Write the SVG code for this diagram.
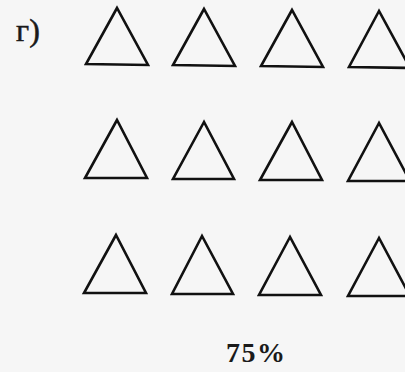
<svg xmlns="http://www.w3.org/2000/svg" width="405" height="372" viewBox="0 0 405 372">
<style>
.tri{fill:none;stroke:#111;stroke-width:2.6;stroke-linejoin:miter}
.lbl{font-family:"Liberation Serif","DejaVu Serif",serif;fill:#1a1a1a}
</style>
<rect width="405" height="372" fill="#f6f6f6"/>
<g id="label-g"><text class="lbl" x="16" y="41" font-size="32" stroke="#1a1a1a" stroke-width="0.5">г)</text></g>
<g id="row1">
<polygon id="t11" class="tri" points="117,8 86,64 148,65"/>
<polygon id="t12" class="tri" points="204,9 173,65 235,66"/>
<polygon id="t13" class="tri" points="292,10 261,66 323,67"/>
<polygon id="t14" class="tri" points="379,11 349,67 410,68"/>
</g>
<g id="row2">
<polygon id="t21" class="tri" points="117,120 85,178 147,178"/>
<polygon id="t22" class="tri" points="204,122 173,179 234,179"/>
<polygon id="t23" class="tri" points="292,122 260,180 322,180"/>
<polygon id="t24" class="tri" points="379,123 348,181 410,181"/>
</g>
<g id="row3">
<polygon id="t31" class="tri" points="116,235 84,293 146,293"/>
<polygon id="t32" class="tri" points="202,236 172,294 233,294"/>
<polygon id="t33" class="tri" points="290,237 259,295 321,295"/>
<polygon id="t34" class="tri" points="379,238 348,296 410,296"/>
</g>
<g id="label-pct"><text class="lbl" x="226" y="362" font-size="28" font-weight="bold" textLength="59" lengthAdjust="spacing">75%</text></g>
<g id="connectors"></g>
</svg>
